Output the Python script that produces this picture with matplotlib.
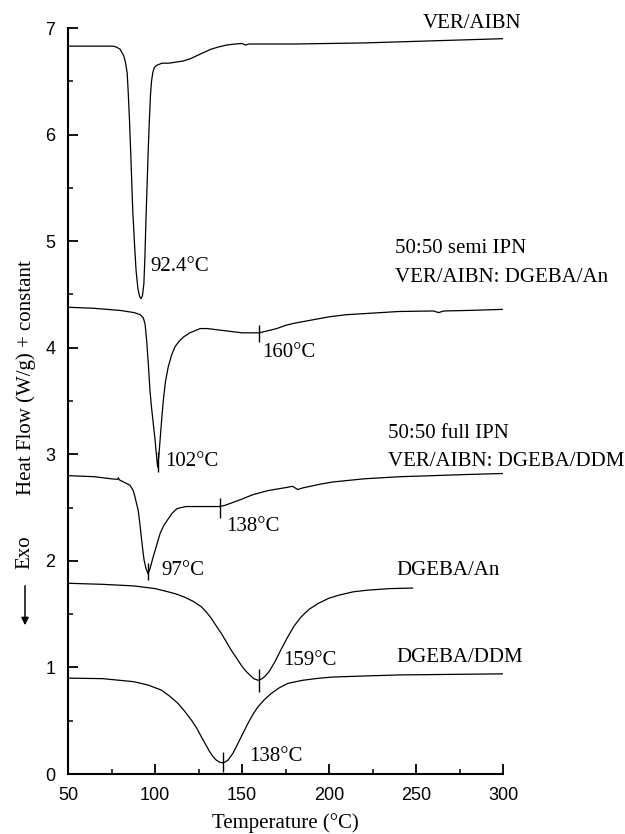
import matplotlib
matplotlib.use("Agg")
import matplotlib.pyplot as plt

# temperatures (°C) and heat flow (W/g + constant)
t_ver = [50, 65, 76, 78, 80, 82, 83, 84, 84.6, 85.3, 86.0, 87.2, 88.2, 89.1, 90.2, 91.2, 92.0,
         92.8, 93.6, 94.2, 94.8, 95.4, 96.1, 96.8, 97.4, 98.0, 98.7, 99.6, 101, 104, 108, 112,
         116, 120, 124, 128, 132, 136, 141, 146, 150, 152, 154, 160, 180, 200, 220, 240, 260,
         280, 300]
v_ver = [6.83, 6.83, 6.83, 6.82, 6.80, 6.74, 6.68, 6.58, 6.40, 6.15, 5.85, 5.29, 4.98, 4.73,
         4.55, 4.48, 4.46, 4.49, 4.60, 4.85, 5.20, 5.50, 5.85, 6.15, 6.37, 6.50, 6.58, 6.63,
         6.65, 6.67, 6.67, 6.68, 6.69, 6.71, 6.74, 6.77, 6.80, 6.82, 6.84, 6.85, 6.855, 6.84,
         6.85, 6.85, 6.85, 6.855, 6.86, 6.87, 6.88, 6.89, 6.90]

t_semi = [50, 65, 80, 88, 91.5, 93.3, 94.3, 95.2, 96.2, 97.1, 98.0, 99.0, 100.0, 100.8, 101.5,
          102.2, 102.9, 103.8, 104.8, 106.0, 107.6, 109.5, 111.5, 113.8, 116.3, 120, 126, 130,
          135, 140, 145, 150, 155, 160, 165, 170, 175, 180, 190, 200, 210, 220, 240, 260, 263,
          266, 280, 300]
v_semi = [4.38, 4.37, 4.35, 4.33, 4.31, 4.28, 4.22, 4.07, 3.84, 3.60, 3.44, 3.29, 3.14, 3.00,
          2.88, 2.98, 3.13, 3.32, 3.51, 3.68, 3.82, 3.93, 4.01, 4.06, 4.10, 4.14, 4.18, 4.18,
          4.17, 4.16, 4.15, 4.14, 4.14, 4.14, 4.16, 4.18, 4.21, 4.23, 4.26, 4.29, 4.31, 4.32,
          4.34, 4.345, 4.33, 4.345, 4.35, 4.36]

t_full = [50, 65, 75, 78.5, 79, 79.5, 82, 85.6, 87.5, 88.5, 89.5, 90.3, 91.3, 92.3, 93.0, 93.7,
          94.8, 96.0, 97.2, 98.0, 99, 101, 103, 105, 107, 110, 112.6, 115, 118, 125, 130, 137,
          140, 145, 150, 156, 165, 176, 179, 182, 185, 195, 202, 220, 241, 260, 278, 300]
v_full = [2.80, 2.79, 2.77, 2.765, 2.78, 2.76, 2.74, 2.71, 2.66, 2.60, 2.53, 2.48, 2.35, 2.20,
          2.10, 2.01, 1.93, 1.88, 1.93, 1.98, 2.04, 2.15, 2.26, 2.33, 2.38, 2.45, 2.49, 2.50,
          2.51, 2.51, 2.51, 2.51, 2.52, 2.55, 2.58, 2.62, 2.66, 2.69, 2.70, 2.67, 2.685, 2.72,
          2.74, 2.77, 2.79, 2.80, 2.81, 2.82]

t_an = [50, 70, 88, 100, 107.5, 112, 117, 122, 126.6, 129.5, 132.4, 135.2, 138.1, 141, 143.9,
        146.8, 149.6, 152, 154.4, 156.8, 159.2, 161, 163, 165.5, 168.8, 172.5, 176.4, 180, 184,
        188.5, 193.7, 200, 206, 214, 222, 235, 248]
v_an = [1.79, 1.78, 1.765, 1.74, 1.71, 1.69, 1.66, 1.62, 1.57, 1.52, 1.46, 1.39, 1.32, 1.24,
        1.16, 1.09, 1.02, 0.97, 0.93, 0.895, 0.88, 0.89, 0.913, 0.96, 1.05, 1.17, 1.29, 1.39,
        1.475, 1.545, 1.60, 1.65, 1.68, 1.71, 1.725, 1.74, 1.745]

t_ddm = [50, 70, 88, 96, 103.6, 108.5, 113.2, 117, 120.9, 124, 126.6, 129, 131.4, 133.3, 135.2,
         137, 138.5, 140.2, 142, 145, 147.7, 150.5, 153.4, 156.3, 159.2, 163, 166.9, 171.5,
         176.4, 185, 193.7, 202, 220, 241, 270, 300]
v_ddm = [0.90, 0.895, 0.866, 0.835, 0.788, 0.73, 0.663, 0.59, 0.507, 0.43, 0.35, 0.28, 0.21,
         0.165, 0.131, 0.112, 0.106, 0.112, 0.131, 0.20, 0.288, 0.38, 0.475, 0.56, 0.631, 0.70,
         0.757, 0.81, 0.851, 0.88, 0.898, 0.91, 0.92, 0.93, 0.935, 0.94]

# short vertical peak / onset markers
mark_t = [101.5, 160, 96.2, 137.5, 160, 138.8]
mark_lo = [2.83, 4.05, 1.82, 2.40, 0.77, 0.02]
mark_hi = [3.02, 4.21, 1.98, 2.59, 0.99, 0.21]

# annotations (text, T, value)
notes = [("VER/AIBN", 254, 7.04),
         ("50:50 semi IPN", 238, 4.93),
         ("VER/AIBN: DGEBA/An", 238, 4.66),
         ("92.4°C", 97.6, 4.76),
         ("160°C", 161.5, 3.96),
         ("102°C", 105.7, 2.93),
         ("50:50 full IPN", 234, 3.20),
         ("VER/AIBN: DGEBA/DDM", 234, 2.93),
         ("138°C", 141, 2.32),
         ("97°C", 103.5, 1.91),
         ("DGEBA/An", 239, 1.91),
         ("159°C", 173.5, 1.07),
         ("DGEBA/DDM", 239, 1.09),
         ("138°C", 154, 0.16)]

serif = "Liberation Serif"
sans = "Liberation Sans"

fig = plt.figure(figsize=(6.25, 8.34), dpi=100)
ax = fig.add_axes([0.1088, 0.0719, 0.696, 0.8945])

for t, v in [(t_ver, v_ver), (t_semi, v_semi), (t_full, v_full), (t_an, v_an), (t_ddm, v_ddm)]:
    ax.plot(t, v, color="black", lw=0.9)
ax.vlines(mark_t, mark_lo, mark_hi, color="black", lw=1.0)

for txt, x, y in notes:
    ax.text(x, y, txt, fontsize=15, family=serif, ha="left", va="center", clip_on=False)

ax.set_xlim(50, 300)
ax.set_ylim(0, 7)
ax.set_xticks([50, 100, 150, 200, 250, 300])
ax.set_xticks([75, 125, 175, 225, 275], minor=True)
ax.set_yticks(range(0, 8))
ax.set_yticks([0.5, 1.5, 2.5, 3.5, 4.5, 5.5, 6.5], minor=True)
ax.spines["top"].set_visible(False)
ax.spines["right"].set_visible(False)
ax.spines["left"].set_linewidth(1.5)
ax.spines["bottom"].set_linewidth(1.5)
ax.tick_params(which="major", direction="in", length=7, width=1.3, labelsize=13)
ax.tick_params(which="minor", direction="in", length=3.5, width=1.1)
ax.tick_params(axis="y", which="major", pad=9)
ax.tick_params(axis="x", which="major", pad=9)
for lab in ax.get_xticklabels() + ax.get_yticklabels():
    lab.set_family(sans)

ax.set_xlabel("Temperature (°C)", fontsize=15, family=serif, labelpad=7)

fig.text(0.042, 0.547, "Heat Flow (W/g) + constant", rotation=90, fontsize=15,
         family=serif, ha="center", va="center")
fig.text(0.039, 0.338, "Exo", rotation=90, fontsize=15, family=serif,
         ha="center", va="center")
fig.add_artist(matplotlib.patches.FancyArrowPatch(
    (0.040, 0.301), (0.040, 0.247), transform=fig.transFigure,
    arrowstyle="-|>", mutation_scale=11, lw=1.1, color="black"))

fig.savefig("out.png", dpi=100)
